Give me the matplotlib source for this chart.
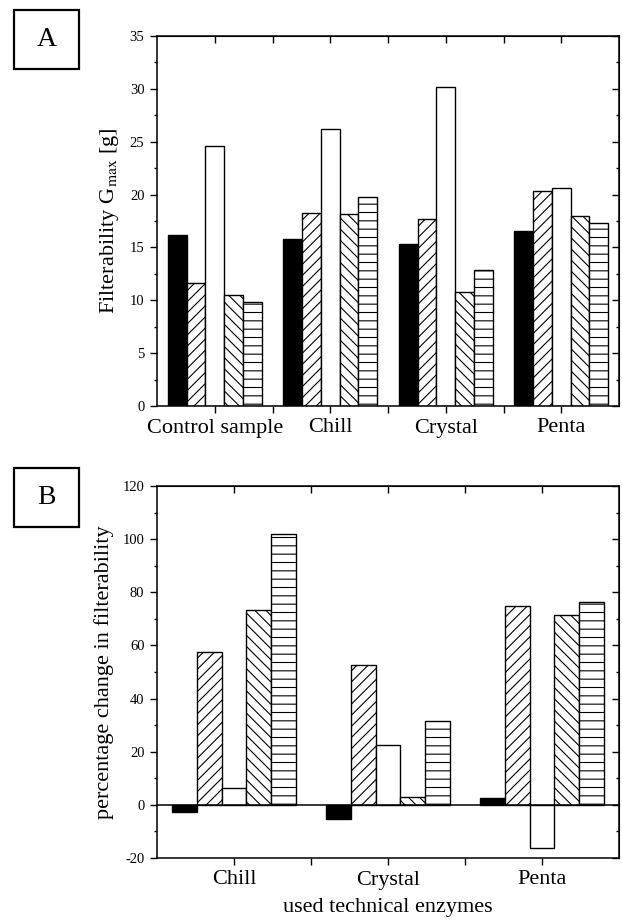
import numpy as np
import matplotlib
matplotlib.use("Agg")
import matplotlib.pyplot as plt
from matplotlib.patches import Rectangle

plt.rcParams["font.family"] = ["Liberation Serif", "DejaVu Serif"]
plt.rcParams["mathtext.fontset"] = "stix"
plt.rcParams["hatch.linewidth"] = 0.8
plt.rcParams["axes.unicode_minus"] = False

# panel A: filterability Gmax [g]
cats_a = ["Control sample", "Chill", "Crystal", "Penta"]
black_a = [16.2, 15.8, 15.3, 16.6]
fwd_a = [11.6, 18.3, 17.7, 20.3]
white_a = [24.6, 26.2, 30.2, 20.6]
back_a = [10.5, 18.2, 10.8, 18.0]
horiz_a = [9.8, 19.8, 12.9, 17.3]

# panel B: percentage change in filterability
cats_b = ["Chill", "Crystal", "Penta"]
black_b = [-2.5, -5.5, 2.5]
fwd_b = [57.5, 52.5, 75.0]
white_b = [6.5, 22.7, -16.4]
back_b = [73.2, 2.9, 71.4]
horiz_b = [102.0, 31.6, 76.4]

styles = [
    dict(facecolor="black", hatch=None),
    dict(facecolor="white", hatch="///"),
    dict(facecolor="white", hatch=None),
    dict(facecolor="white", hatch="\\\\\\"),
    dict(facecolor="white", hatch="--"),
]
width = 0.162


def draw_panel(ax, cats, series, ylim, major, minor, ylabel):
    x = np.arange(1, len(cats) + 1)
    for i, (vals, st) in enumerate(zip(series, styles)):
        ax.bar(x + (i - 2) * width, vals, width, edgecolor="black",
               linewidth=1.0, zorder=2, **st)
    ax.set_xlim(0.5, len(cats) + 0.5)
    ax.set_ylim(*ylim)
    ax.set_xticks(x)
    ax.set_xticklabels(cats, fontsize=16)
    ax.set_xticks(np.arange(1.5, len(cats), 1.0), minor=True)
    ax.set_yticks(np.arange(ylim[0], ylim[1] + 0.1, major))
    ax.set_yticks(np.arange(ylim[0], ylim[1] + 0.1, minor), minor=True)
    ax.tick_params(axis="y", labelsize=10.5)
    ax.tick_params(which="major", direction="out", length=5, width=1, pad=4)
    ax.tick_params(axis="x", which="minor", direction="out", length=5, width=1)
    ax.tick_params(axis="y", which="minor", direction="out", length=2.5, width=1)
    ax.set_ylabel(ylabel, fontsize=16, labelpad=6)
    for s in ax.spines.values():
        s.set_linewidth(1.1)

    # mirrored inward ticks on top and right
    top = ax.secondary_xaxis("top")
    top.set_xticks(x)
    top.set_xticks(np.arange(1.5, len(cats), 1.0), minor=True)
    top.tick_params(which="both", direction="in", length=5, width=1, labeltop=False)
    right = ax.secondary_yaxis("right")
    right.set_yticks(np.arange(ylim[0], ylim[1] + 0.1, major))
    right.set_yticks(np.arange(ylim[0], ylim[1] + 0.1, minor), minor=True)
    right.tick_params(which="major", direction="in", length=5, width=1, labelright=False)
    right.tick_params(which="minor", direction="in", length=2.5, width=1)


fig = plt.figure(figsize=(6.22, 9.23), dpi=100)
W, H = 622, 923

ax_a = fig.add_axes([157 / W, 1 - 406 / H, 462 / W, 370 / H])
draw_panel(ax_a, cats_a, [black_a, fwd_a, white_a, back_a, horiz_a],
           (0, 35), 5, 2.5, r"Filterability G$_{\mathrm{max}}$ [g]")

ax_b = fig.add_axes([157 / W, 1 - 858 / H, 462 / W, 372 / H])
draw_panel(ax_b, cats_b, [black_b, fwd_b, white_b, back_b, horiz_b],
           (-20, 120), 20, 10, "percentage change in filterability")
ax_b.axhline(0, color="black", linewidth=1.1, zorder=3)
ax_b.set_xlabel("used technical enzymes", fontsize=16, labelpad=6)

# boxed panel letters
for letter, y0 in [("A", 10), ("B", 468)]:
    fig.patches.append(Rectangle((14 / W, 1 - (y0 + 59) / H), 65 / W, 59 / H,
                                 transform=fig.transFigure, fill=False,
                                 edgecolor="black", linewidth=1.6))
    fig.text(46.5 / W, 1 - (y0 + 30) / H, letter, fontsize=20,
             ha="center", va="center")

fig.savefig("out.png", dpi=100)
